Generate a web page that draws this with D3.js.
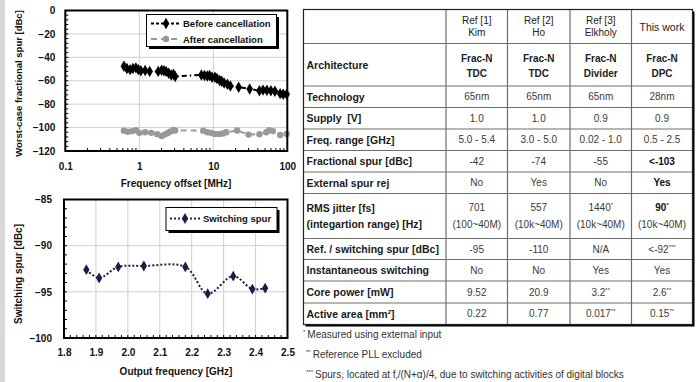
<!DOCTYPE html>
<html>
<head>
<meta charset="utf-8">
<script src="https://cdn.jsdelivr.net/npm/d3@7"></script>
<style>
  body { margin: 0; background: #fff; }
  svg { display: block; font-family: "Liberation Sans", Arial, sans-serif; }
  text { white-space: pre; }
</style>
</head>
<body>
<svg id="chart" width="699" height="382"></svg>
<script>
// top chart: worst-case fractional spur vs frequency offset
const beforeFreq = [0.62, 0.68, 0.75, 0.82, 0.9, 0.97, 1.05, 1.2, 1.38, 1.8, 2.0, 2.15, 2.3, 2.5, 2.7, 2.9, 3.05,
  6.9, 7.6, 8.3, 8.9, 9.6, 10.5, 11.2, 12.2, 13, 14, 15.5, 17, 22, 31, 42, 47, 53, 60, 68, 80, 88, 98];
const beforeSpur = [-47.7, -49.5, -50.5, -49.5, -49, -50.5, -51.5, -51.2, -52, -52, -51, -51.5, -52, -53.5, -55, -54.5, -56.3,
  -55, -55.5, -56, -55.5, -57, -57, -58, -59.8, -60.5, -62, -63, -64.5, -65.5, -67, -68.5, -68, -68.2, -68.5, -69, -71, -71.5, -71.5];
const afterFreq = [0.62, 0.7, 0.8, 0.9, 1.0, 1.2, 1.45, 1.75, 2.0, 2.2, 2.4, 2.6, 2.9, 3.05,
  7.3, 8.3, 9.3, 10.5, 12, 13.5, 15, 21, 30, 42, 52, 57, 64, 80, 98];
const afterSpur = [-102.6, -103.5, -103, -102.3, -104.5, -104, -104.5, -105.6, -107.2, -106, -104.8, -103.5, -102, -102.5,
  -102.6, -104, -104.5, -105.4, -105.5, -105, -104, -102.5, -106, -105.6, -104, -102.3, -103, -106.3, -105.5];
const topXTicks = [0.1, 1, 10, 100];
const topYTicks = [0, -20, -40, -60, -80, -100, -120];

// bottom chart: switching spur vs output frequency
const outFreq = [1.87, 1.91, 1.97, 2.05, 2.18, 2.25, 2.33, 2.39, 2.43];
const switchSpur = [-92.6, -93.5, -92.3, -92.2, -92.3, -95.2, -93.3, -94.7, -94.6];
const botXTicks = [1.8, 1.9, 2.0, 2.1, 2.2, 2.3, 2.4, 2.5];
const botYTicks = [-85, -90, -95, -100];

// comparison table
const colHeads = [["Ref [1]", "Kim"], ["Ref [2]", "Ho"], ["Ref [3]", "Elkholy"], ["This work"]];
const rowLabels = [["Architecture"], ["Technology"], ["Supply  [V]"], ["Freq. range [GHz]"], ["Fractional spur [dBc]"],
  ["External spur rej"], ["RMS jitter [fs]", "(integartion range) [Hz]"], ["Ref. / switching spur [dBc]"],
  ["Instantaneous switching"], ["Core power [mW]"], ["Active area [mm", "2", "]"]];
const architecture = [["Frac-N", "TDC"], ["Frac-N", "TDC"], ["Frac-N", "Divider"], ["Frac-N", "DPC"]];
const technology = ["65nm", "65nm", "65nm", "28nm"];
const supply = ["1.0", "1.0", "0.9", "0.9"];
const freqRange = ["5.0 - 5.4", "3.0 - 5.0", "0.02 - 1.0", "0.5 - 2.5"];
const fracSpur = ["-42", "-74", "-55", "<-103"];
const extRej = ["No", "Yes", "No", "Yes"];
const jitter = [["701", ""], ["557", ""], ["1440", "*"], ["90", "*"]];
const jitterRange = ["(100~40M)", "(10k~40M)", "(10k~40M)", "(10k~40M)"];
const refSpur = [["-95", ""], ["-110", ""], ["N/A", ""], ["<-92", "***"]];
const instSwitch = ["No", "No", "Yes", "Yes"];
const corePower = [["9.52", ""], ["20.9", ""], ["3.2", "**"], ["2.6", "**"]];
const activeArea = [["0.22", ""], ["0.77", ""], ["0.017", "**"], ["0.15", "**"]];
const footnotes = [["*", "Measured using external input"], ["**", "Reference PLL excluded"],
  ["***", "Spurs, located at f", "r", "/(N+α)/4, due to switching activities of digital blocks"]];

const svg = d3.select("#chart");

// light strip at the left edge
svg.append("rect").attr("x", 0).attr("y", 0).attr("width", 5).attr("height", 382).style("fill", "#d9d9d9");

const drawFrame = (g, x0, y0, w, h) => {
  g.append("rect").attr("x", x0).attr("y", y0).attr("width", w).attr("height", h)
    .style("fill", "none").style("stroke", "#000").style("stroke-width", 2);
};

const styleAxis = (g) => {
  g.select(".domain").remove();
  g.selectAll("text").style("font-size", "10px").style("font-weight", "bold").style("fill", "#111");
};

const legendBox = (x, y, w, h) => {
  svg.append("rect").attr("x", x + 2.5).attr("y", y + 2.5).attr("width", w).attr("height", h).style("fill", "#000");
  svg.append("rect").attr("x", x).attr("y", y).attr("width", w).attr("height", h)
    .style("fill", "#fff").style("stroke", "#000").style("stroke-width", 1);
};

// ---------- top chart ----------
const x1 = d3.scaleLog().domain([0.1, 100]).range([65.3, 287.3]);
const y1 = d3.scaleLinear().domain([-120, 0]).range([151, 10.5]);

const topG = svg.append("g");
topG.selectAll("line.hgrid").data(topYTicks.slice(1, -1)).enter().append("line")
  .attr("x1", x1(0.1)).attr("x2", x1(100)).attr("y1", d => y1(d)).attr("y2", d => y1(d))
  .style("stroke", "#cfcfcf");
topG.selectAll("line.vgrid").data([1, 10]).enter().append("line")
  .attr("x1", d => x1(d)).attr("x2", d => x1(d)).attr("y1", y1(0)).attr("y2", y1(-120))
  .style("stroke", "#cfcfcf");

// minor ticks
const logMinor = [];
[0.1, 1, 10].forEach(dec => { for (let k = 2; k <= 9; k++) logMinor.push(dec * k); });
topG.selectAll("line.xminor").data(logMinor).enter().append("line")
  .attr("x1", d => x1(d)).attr("x2", d => x1(d)).attr("y1", y1(-120)).attr("y2", y1(-120) - 3)
  .style("stroke", "#000");
topG.selectAll("line.yminor").data(d3.range(-116, 0, 4)).enter().append("line")
  .attr("x1", x1(0.1)).attr("x2", x1(0.1) + 3).attr("y1", d => y1(d)).attr("y2", d => y1(d))
  .style("stroke", "#000");

topG.append("g").attr("transform", `translate(0,${y1(-120)})`)
  .call(d3.axisBottom(x1).tickValues(topXTicks).tickSize(0).tickPadding(12).tickFormat(d3.format("~g")))
  .call(styleAxis);
topG.append("g").attr("transform", `translate(${x1(0.1)},0)`)
  .call(d3.axisLeft(y1).tickValues(topYTicks).tickSize(0).tickPadding(10))
  .call(styleAxis);

const beforeData = beforeFreq.map((f, i) => [f, beforeSpur[i]]);
const afterData = afterFreq.map((f, i) => [f, afterSpur[i]]);
const line1 = d3.line().x(d => x1(d[0])).y(d => y1(d[1]));

topG.append("path").datum(afterData).attr("d", line1)
  .style("fill", "none").style("stroke", "#999").style("stroke-width", 2).style("stroke-dasharray", "6,4");
topG.selectAll("circle.after").data(afterData).enter().append("circle")
  .attr("cx", d => x1(d[0])).attr("cy", d => y1(d[1])).attr("r", 3.2).style("fill", "#999");

topG.append("path").datum(beforeData).attr("d", line1)
  .style("fill", "none").style("stroke", "#000").style("stroke-width", 2).style("stroke-dasharray", "5,3,1.5,3");
topG.selectAll("path.before").data(beforeData).enter().append("path")
  .attr("transform", d => `translate(${x1(d[0])},${y1(d[1])})`)
  .attr("d", d3.symbol(d3.symbolDiamond, 38)).style("fill", "#000");

drawFrame(topG, x1(0.1), y1(0), x1(100) - x1(0.1), y1(-120) - y1(0));

legendBox(146.5, 14.5, 130, 32);
svg.append("line").attr("x1", 151).attr("x2", 181).attr("y1", 23.5).attr("y2", 23.5)
  .style("stroke", "#000").style("stroke-width", 2.2).style("stroke-dasharray", "3,2");
svg.append("path").attr("transform", "translate(166,23.5)").attr("d", d3.symbol(d3.symbolDiamond, 38)).style("fill", "#000");
svg.append("text").attr("x", 183).attr("y", 27).text("Before cancellation")
  .style("font-size", "9.5px").style("font-weight", "bold").style("fill", "#111");
svg.append("line").attr("x1", 151).attr("x2", 181).attr("y1", 39).attr("y2", 39)
  .style("stroke", "#999").style("stroke-width", 2).style("stroke-dasharray", "6,4");
svg.append("circle").attr("cx", 166).attr("cy", 39).attr("r", 3.2).style("fill", "#999");
svg.append("text").attr("x", 183).attr("y", 42.5).text("After cancellation")
  .style("font-size", "9.5px").style("font-weight", "bold").style("fill", "#111");

svg.append("text").attr("x", 176).attr("y", 187).attr("text-anchor", "middle").text("Frequency offset [MHz]")
  .style("font-size", "10px").style("font-weight", "bold").style("fill", "#111");
svg.append("text").attr("transform", "translate(21.5,83.5) rotate(-90)").attr("text-anchor", "middle")
  .text("Worst-case fractional spur [dBc]")
  .style("font-size", "9.5px").style("font-weight", "bold").style("fill", "#111");

// ---------- bottom chart ----------
const x2 = d3.scaleLinear().domain([1.8, 2.5]).range([64, 287.5]);
const y2 = d3.scaleLinear().domain([-100, -85]).range([338, 199.5]);

const botG = svg.append("g");
botG.selectAll("line.hgrid").data([-90, -95]).enter().append("line")
  .attr("x1", x2(1.8)).attr("x2", x2(2.5)).attr("y1", d => y2(d)).attr("y2", d => y2(d))
  .style("stroke", "#cfcfcf");
botG.selectAll("line.vgrid").data(botXTicks.slice(1, -1)).enter().append("line")
  .attr("x1", d => x2(d)).attr("x2", d => x2(d)).attr("y1", y2(-85)).attr("y2", y2(-100))
  .style("stroke", "#cfcfcf");
botG.selectAll("line.xminor").data(d3.range(1.82, 2.5, 0.02)).enter().append("line")
  .attr("x1", d => x2(d)).attr("x2", d => x2(d)).attr("y1", y2(-100)).attr("y2", y2(-100) - 3)
  .style("stroke", "#000");
botG.selectAll("line.yminor").data(d3.range(-99, -85, 1)).enter().append("line")
  .attr("x1", x2(1.8)).attr("x2", x2(1.8) + 3).attr("y1", d => y2(d)).attr("y2", d => y2(d))
  .style("stroke", "#000");

botG.append("g").attr("transform", `translate(0,${y2(-100)})`)
  .call(d3.axisBottom(x2).tickValues(botXTicks).tickSize(0).tickPadding(11).tickFormat(d3.format(".1f")))
  .call(styleAxis);
botG.append("g").attr("transform", `translate(${x2(1.8)},0)`)
  .call(d3.axisLeft(y2).tickValues(botYTicks).tickSize(0).tickPadding(12))
  .call(styleAxis);

const switchData = outFreq.map((f, i) => [f, switchSpur[i]]);
botG.append("path").datum(switchData)
  .attr("d", d3.line().x(d => x2(d[0])).y(d => y2(d[1])).curve(d3.curveCatmullRom.alpha(0.5)))
  .style("fill", "none").style("stroke", "#1c1c48").style("stroke-width", 2).style("stroke-dasharray", "2,2");
botG.selectAll("path.sw").data(switchData).enter().append("path")
  .attr("transform", d => `translate(${x2(d[0])},${y2(d[1])})`)
  .attr("d", d3.symbol(d3.symbolDiamond, 34)).style("fill", "#1c1c48");

drawFrame(botG, x2(1.8), y2(-85), x2(2.5) - x2(1.8), y2(-100) - y2(-85));

legendBox(166, 207.5, 111, 23);
svg.append("line").attr("x1", 170).attr("x2", 200).attr("y1", 218.5).attr("y2", 218.5)
  .style("stroke", "#1c1c48").style("stroke-width", 2).style("stroke-dasharray", "2,2");
svg.append("path").attr("transform", "translate(185,218.5)").attr("d", d3.symbol(d3.symbolDiamond, 34)).style("fill", "#1c1c48");
svg.append("text").attr("x", 203).attr("y", 222).text("Switching spur")
  .style("font-size", "9.5px").style("font-weight", "bold").style("fill", "#111");

svg.append("text").attr("x", 176).attr("y", 375).attr("text-anchor", "middle").text("Output frequency [GHz]")
  .style("font-size", "10px").style("font-weight", "bold").style("fill", "#111");
svg.append("text").attr("transform", "translate(22,274) rotate(-90)").attr("text-anchor", "middle")
  .text("Switching spur [dBc]")
  .style("font-size", "10px").style("font-weight", "bold").style("fill", "#111");

// ---------- table ----------
const colX = [303.5, 446, 507.5, 570, 631.5, 692.5];
const rowH = [34, 42.5, 21.5, 21.5, 21.5, 21.5, 21.5, 45, 21, 21.5, 22, 21.5];
const rowY = [9.5];
rowH.forEach(h => rowY.push(rowY[rowY.length - 1] + h));
const tW = colX[5] - colX[0], tH = rowY[rowY.length - 1] - rowY[0];

const tbl = svg.append("g");
tbl.append("rect").attr("x", colX[0] + 2).attr("y", rowY[0] + 2).attr("width", tW).attr("height", tH).style("fill", "#000");
tbl.append("rect").attr("x", colX[0]).attr("y", rowY[0]).attr("width", tW).attr("height", tH).style("fill", "#fff");
tbl.selectAll("line.row").data(rowY.slice(1, -1)).enter().append("line")
  .attr("x1", colX[0]).attr("x2", colX[5]).attr("y1", d => d).attr("y2", d => d)
  .style("stroke", "#6e6e6e").style("stroke-width", 1.2);
tbl.selectAll("line.col").data(colX.slice(1, -1)).enter().append("line")
  .attr("x1", d => d).attr("x2", d => d).attr("y1", rowY[0]).attr("y2", rowY[rowY.length - 1])
  .style("stroke", "#6e6e6e").style("stroke-width", 1.2);
tbl.append("rect").attr("x", colX[0]).attr("y", rowY[0]).attr("width", tW).attr("height", tH)
  .style("fill", "none").style("stroke", "#222").style("stroke-width", 1.2);

const cellText = (x, y, parts, opts) => {
  const t = tbl.append("text").attr("x", x).attr("y", y)
    .attr("text-anchor", opts.anchor || "middle")
    .style("font-size", (opts.size || 10) + "px")
    .style("font-weight", opts.bold ? "bold" : "normal")
    .style("fill", opts.fill || "#3a3a3a");
  t.append("tspan").text(parts[0]);
  if (parts[1]) t.append("tspan").attr("dy", -4).style("font-size", "6px").text(parts[1]);
  if (parts[2]) t.append("tspan").attr("dy", 4).text(parts[2]);
  return t;
};

const colMid = i => (colX[i + 1] + colX[i + 2]) / 2;
const rowMid = r => (rowY[r] + rowY[r + 1]) / 2;

// header row
colHeads.forEach((h, i) => {
  if (h.length === 2) {
    cellText(colMid(i), rowMid(0) - 2.5, [h[0]], { size: 10, fill: "#222" });
    cellText(colMid(i), rowMid(0) + 9.5, [h[1]], { size: 10, fill: "#222" });
  } else {
    cellText(colMid(i), rowMid(0) + 4, [h[0]], { size: 10.5, fill: "#222" });
  }
});

// row labels
rowLabels.forEach((lab, r) => {
  const rr = r + 1;
  if (r === 6) {
    cellText(colX[0] + 3, rowMid(rr) - 4.5, [lab[0]], { anchor: "start", size: 10.5, bold: true, fill: "#1a1a1a" });
    cellText(colX[0] + 3, rowMid(rr) + 12, [lab[1]], { anchor: "start", size: 10.5, bold: true, fill: "#1a1a1a" });
  } else {
    cellText(colX[0] + 3, rowMid(rr) + 4, lab, { anchor: "start", size: 10.5, bold: true, fill: "#1a1a1a" });
  }
});

// architecture row
architecture.forEach((a, i) => {
  cellText(colMid(i), rowMid(1) - 3, [a[0]], { size: 10, bold: true, fill: "#222" });
  cellText(colMid(i), rowMid(1) + 12, [a[1]], { size: 10, bold: true, fill: "#222" });
});

const simpleRow = (vals, r, boldLast) => {
  vals.forEach((v, i) => {
    const parts = Array.isArray(v) ? v : [v];
    cellText(colMid(i), rowMid(r) + 3.5, parts, { bold: boldLast && i === 3, fill: boldLast && i === 3 ? "#111" : "#3a3a3a" });
  });
};
simpleRow(technology, 2);
simpleRow(supply, 3);
simpleRow(freqRange, 4);
simpleRow(fracSpur, 5, true);
simpleRow(extRej, 6, true);
jitter.forEach((v, i) => {
  cellText(colMid(i), rowMid(7) - 5, v, { bold: i === 3, fill: i === 3 ? "#111" : "#3a3a3a" });
  cellText(colMid(i), rowMid(7) + 12, [jitterRange[i]], {});
});
simpleRow(refSpur, 8);
simpleRow(instSwitch, 9);
simpleRow(corePower, 10);
simpleRow(activeArea, 11);

// footnotes
footnotes.forEach((f, i) => {
  const t = svg.append("text").attr("x", 303 + (i === 0 ? 0 : 3)).attr("y", 338 + i * 20)
    .style("font-size", "10px").style("fill", "#333");
  t.append("tspan").attr("dy", -4).style("font-size", "6px").text(f[0]);
  t.append("tspan").attr("dy", 4).attr("dx", 2).text(f[1]);
  if (f[2]) {
    t.append("tspan").attr("dy", 2).style("font-size", "6px").text(f[2]);
    t.append("tspan").attr("dy", -2).text(f[3]);
  }
});
</script>
</body>
</html>
